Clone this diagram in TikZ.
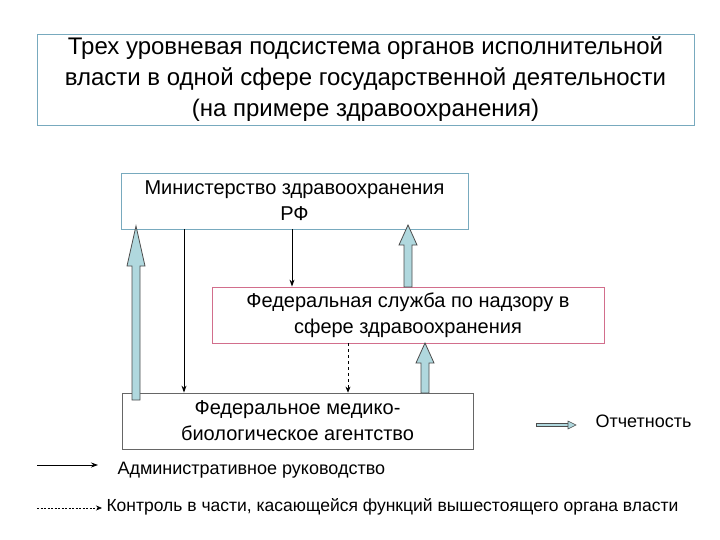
\documentclass[tikz,border=0pt]{standalone}
\usepackage{fontspec}
\setmainfont{Liberation Sans}
\usetikzlibrary{arrows.meta,calc}
\definecolor{bluebd}{RGB}{120,170,190}
\definecolor{pinkbd}{RGB}{210,110,140}
\definecolor{fatfill}{RGB}{176,216,222}
\newcommand{\fatup}[4]{% x, ybottom, ytop, headlen
  \draw[fill=fatfill,draw=black!70,line width=0.8pt]
   (#1-4,#2) -- (#1-4,#3+#4) -- (#1-9,#3+#4) -- (#1,#3) -- (#1+9,#3+#4) -- (#1+4,#3+#4) -- (#1+4,#2) -- cycle;}
\begin{document}
\begin{tikzpicture}[x=1pt,y=-1pt,
  box/.style={draw,line width=0.8pt,align=center,inner sep=0pt,font=\fontsize{20}{26}\selectfont},
  adm/.style={-{Stealth[length=7pt,width=5pt]},line width=1pt},
  ctl/.style={-{Stealth[length=6pt,width=5pt]},dashed,line width=0.6pt},
  leg/.style={anchor=west,font=\fontsize{18}{20}\selectfont}]
\useasboundingbox (0,0) rectangle (720,540);
\node[box,draw=bluebd,minimum width=657pt,minimum height=91pt,font=\fontsize{24}{31}\selectfont] (title) at (365.5,79.5)
 {Трех уровневая подсистема органов исполнительной\\власти в одной сфере государственной деятельности\\(на примере здравоохранения)};
\node[box,draw=bluebd,minimum width=347pt,minimum height=56pt] (min) at (294.5,201)
 {Министерство здравоохранения\\РФ};
\node[box,draw=pinkbd,minimum width=392pt,minimum height=56pt] (fs) at (408,315)
 {Федеральная служба по надзору в\\сфере здравоохранения};
\node[box,draw=black!60,minimum width=351pt,minimum height=56pt] (ag) at (297.5,421)
 {Федеральное медико-\\биологическое агентство};
\fatup{136}{400}{226}{40}
\fatup{408}{287}{225}{20}
\fatup{425}{393}{343}{20}
\draw[adm] (min.south -| 184,0) -- (ag.north -| 184,0);
\draw[adm] (min.south -| 292,0) -- (fs.north -| 292,0);
\draw[ctl] (fs.south -| 348,0) -- (ag.north -| 348,0);
% legend
\coordinate (r1) at (536,425);
\coordinate (r2) at (575,425);
\draw[line width=3.5pt,draw=black!70] (r1) -- ($(r2)+(-6,0)$);
\draw[line width=2pt,draw=fatfill] (537,425) -- (568,425);
\draw[fill=fatfill,draw=black!70,line width=0.6pt] (568,421) -- (576,425) -- (568,429) -- cycle;
\node[leg] (lr) at (592,421) {Отчетность};
\coordinate (a1) at (37,465);
\coordinate (a2) at (98,465);
\draw[adm,line width=0.8pt] (a1) -- (a2);
\node[leg] (la) at (114,470) {Административное руководство};
\coordinate (c1) at (37,508);
\coordinate (c2) at (102,508);
\draw[ctl,dash pattern=on 2pt off 1.5pt] (c1) -- (c2);
\node[leg,font=\fontsize{17.5}{20}\selectfont] (lc) at (103,507) {Контроль в части, касающейся функций вышестоящего органа власти};
\end{tikzpicture}
\end{document}
